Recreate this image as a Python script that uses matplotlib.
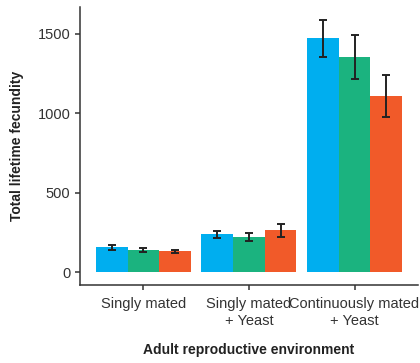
import numpy as np
import matplotlib
matplotlib.use("Agg")
import matplotlib.pyplot as plt

plt.rcParams["font.family"] = ["Liberation Sans", "DejaVu Sans"]

environments = ["Singly mated", "Singly mated\n+ Yeast", "Continuously mated\n+ Yeast"]
colors = ["#00AEEF", "#1BB37F", "#F15A29"]

# mean fecundity per treatment (three lines per environment)
means = [
    [157, 138, 133],
    [240, 221, 264],
    [1470, 1352, 1107],
]
errors = [
    [16, 13, 10],
    [22, 25, 42],
    [118, 140, 130],
]

means = np.array(means)
errors = np.array(errors)

fig = plt.figure(figsize=(4.2, 3.63), dpi=100)
ax = fig.add_axes([0.1905, 0.2149, 0.8045, 0.7658])

x = np.arange(1, len(environments) + 1)
width = 0.9 / 3

for i in range(3):
    pos = x + (i - 1) * width
    ax.bar(pos, means[:, i], width=width, color=colors[i], linewidth=0, zorder=2)
    ax.errorbar(pos, means[:, i], yerr=errors[:, i], fmt="none",
                ecolor="#222222", elinewidth=1.4, capsize=3, capthick=1.4, zorder=3)

ax.set_xlim(0.4, 3.6)
ymax = (means + errors).max()
ax.set_ylim(-0.05 * ymax, 1.05 * ymax)
ax.set_yticks([0, 500, 1000, 1500])
ax.set_xticks(x)
ax.set_xticklabels(environments, linespacing=1.25)

for side in ["top", "right"]:
    ax.spines[side].set_visible(False)
for side in ["left", "bottom"]:
    ax.spines[side].set_color("#333333")
    ax.spines[side].set_linewidth(1.1)

ax.tick_params(axis="both", colors="#333333", labelcolor="#333333",
               labelsize=10.5, length=3.5, width=1.1)
ax.tick_params(axis="x", pad=5)

ax.set_ylabel("Total lifetime fecundity", fontsize=10, fontweight="bold",
              color="#222222", labelpad=10)
ax.set_xlabel("Adult reproductive environment", fontsize=10, fontweight="bold",
              color="#222222", labelpad=11)

fig.savefig("out.png", dpi=100)
